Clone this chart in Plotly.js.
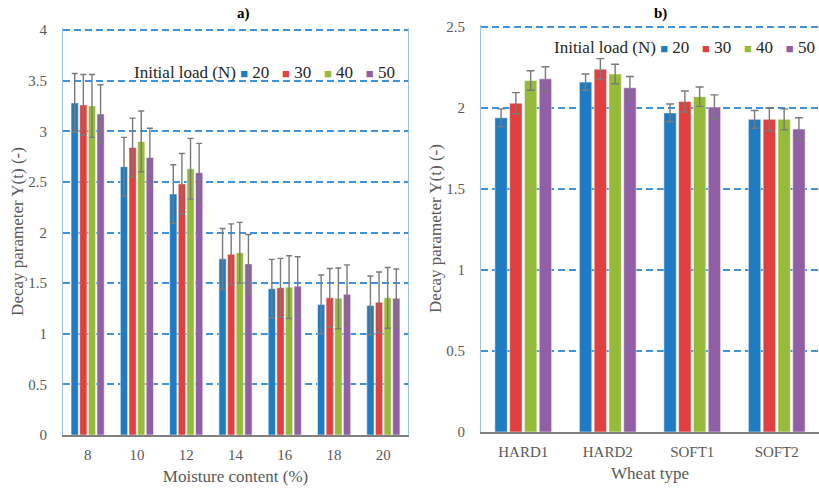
<!DOCTYPE html>
<html>
<head>
<meta charset="utf-8">
<script src="https://cdn.plot.ly/plotly-3.0.1.min.js"></script>
<style>html,body{margin:0;padding:0;background:#fff;}#chart{width:819px;height:489px;}</style>
</head>
<body>
<div id="chart"></div>
<script>
// ---- data ----
var moisture = ["8", "10", "12", "14", "16", "18", "20"];
var wheat = ["HARD1", "HARD2", "SOFT1", "SOFT2"];
var loads = ["20", "30", "40", "50"];
var legendTitle = "Initial load (N)";

// panel a) Decay parameter vs moisture content
var a20 = [3.28, 2.65, 2.38, 1.74, 1.445, 1.29, 1.28];
var a30 = [3.26, 2.84, 2.48, 1.785, 1.455, 1.355, 1.31];
var a40 = [3.25, 2.90, 2.63, 1.80, 1.46, 1.35, 1.355];
var a50 = [3.17, 2.74, 2.59, 1.69, 1.47, 1.39, 1.35];
var ea20 = [0.29, 0.29, 0.29, 0.30, 0.29, 0.29, 0.29];
var ea30 = [0.30, 0.29, 0.30, 0.30, 0.29, 0.29, 0.30];
var ea40 = [0.31, 0.30, 0.30, 0.30, 0.31, 0.30, 0.30];
var ea50 = [0.29, 0.29, 0.29, 0.29, 0.29, 0.29, 0.29];

// panel b) Decay parameter vs wheat type
var b20 = [1.94, 2.16, 1.97, 1.93];
var b30 = [2.03, 2.24, 2.04, 1.93];
var b40 = [2.17, 2.21, 2.07, 1.93];
var b50 = [2.18, 2.125, 2.006, 1.87];
var eb20 = [0.055, 0.05, 0.055, 0.055];
var eb30 = [0.065, 0.065, 0.065, 0.07];
var eb40 = [0.06, 0.06, 0.06, 0.065];
var eb50 = [0.075, 0.07, 0.075, 0.07];

// ---- styles ----
var colors = ["#1f7cc2", "#e0403f", "#96bb3a", "#915fa6"];
var serif = "Liberation Serif";
var gray = "#595959";

var aVals = [a20, a30, a40, a50], aErr = [ea20, ea30, ea40, ea50];
var bVals = [b20, b30, b40, b50], bErr = [eb20, eb30, eb40, eb50];

var traces = [];
loads.forEach(function (ld, i) {
  traces.push({
    type: "bar", x: moisture, y: aVals[i], name: ld, xaxis: "x", yaxis: "y",
    marker: {color: colors[i], line: {color: "rgba(255,255,255,0.5)", width: 1}},
    error_y: {type: "data", array: aErr[i], visible: true, color: "#7a7a7a", thickness: 1.4, width: 3},
    showlegend: false
  });
});
loads.forEach(function (ld, i) {
  traces.push({
    type: "bar", x: wheat, y: bVals[i], name: ld, xaxis: "x2", yaxis: "y2",
    marker: {color: colors[i], line: {color: "rgba(255,255,255,0.5)", width: 1}},
    error_y: {type: "data", array: bErr[i], visible: true, color: "#7a7a7a", thickness: 1.4, width: 4},
    showlegend: false
  });
});

function legendText() {
  var s = legendTitle;
  loads.forEach(function (ld, i) {
    s += (i === 0 ? " " : "   ") + '<span style="color:' + colors[i] + ';font-size:13px">■</span> ' + ld;
  });
  return s;
}

var W = 819, H = 489;
function px(x) { return x / W; }
function py(y) { return 1 - y / H; }

var gridStyle = {gridcolor: "#3f93dc", gridwidth: 2, griddash: "7px,4px"};

var layout = {
  width: W, height: H,
  margin: {l: 0, r: 0, t: 0, b: 0},
  paper_bgcolor: "#fff", plot_bgcolor: "#fff",
  barmode: "group", bargap: 0.3, bargroupgap: 0.16,
  showlegend: false,
  font: {family: serif, color: gray, size: 15},
  xaxis: {
    domain: [px(63), px(408)], anchor: "y", type: "category",
    showline: true, linecolor: "#808080", linewidth: 1.5, showgrid: false,
    ticks: "", ticklabelstandoff: 5,
    tickfont: {family: serif, size: 15, color: gray},
    title: {text: "Moisture content (%)", font: {family: serif, size: 17, color: gray}, standoff: 8}
  },
  yaxis: Object.assign({
    domain: [py(435), py(28)], anchor: "x", range: [0, 4.02], dtick: 0.5,
    showline: true, linecolor: "#9cc3e8", linewidth: 1, mirror: true,
    zeroline: false, ticks: "", ticklabelstandoff: 12,
    tickfont: {family: serif, size: 15, color: gray},
    title: {text: "Decay parameter Y(t) (-)", font: {family: serif, size: 17, color: gray}, standoff: 0}
  }, gridStyle),
  xaxis2: {
    domain: [px(481), 1], anchor: "y2", type: "category",
    showline: true, linecolor: "#808080", linewidth: 1.5, showgrid: false,
    ticks: "", ticklabelstandoff: 5,
    tickfont: {family: serif, size: 15, color: gray},
    title: {text: "Wheat type", font: {family: serif, size: 17, color: gray}, standoff: 8}
  },
  yaxis2: Object.assign({
    domain: [py(432), py(25)], anchor: "x2", range: [0, 2.5125], dtick: 0.5,
    showline: true, linecolor: "#9cc3e8", linewidth: 1, mirror: true,
    zeroline: false, ticks: "", ticklabelstandoff: 12,
    tickfont: {family: serif, size: 15, color: gray},
    title: {text: "Decay parameter Y(t) (-)", font: {family: serif, size: 17, color: gray}, standoff: 0}
  }, gridStyle),
  annotations: [
    {xref: "paper", yref: "paper", x: px(243), y: py(14), text: "<b>a)</b>", showarrow: false,
     font: {family: serif, size: 15, color: "#000"}, xanchor: "center", yanchor: "middle"},
    {xref: "paper", yref: "paper", x: px(660), y: py(14), text: "<b>b)</b>", showarrow: false,
     font: {family: serif, size: 15, color: "#000"}, xanchor: "center", yanchor: "middle"},
    {xref: "paper", yref: "paper", x: px(397), y: py(72), text: legendText(), showarrow: false,
     font: {family: serif, size: 17, color: "#262626"}, xanchor: "right", yanchor: "middle"},
    {xref: "paper", yref: "paper", x: px(817), y: py(47), text: legendText(), showarrow: false,
     font: {family: serif, size: 17, color: "#262626"}, xanchor: "right", yanchor: "middle"}
  ]
};

Plotly.newPlot("chart", traces, layout, {displayModeBar: false, staticPlot: true});
</script>
</body>
</html>
